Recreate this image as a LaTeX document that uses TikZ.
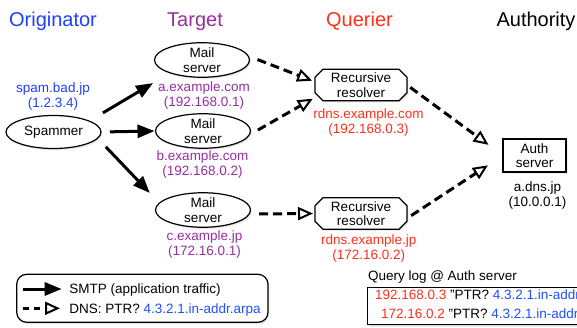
\documentclass[tikz,border=0pt]{standalone}
\usepackage{fontspec}
\setmainfont{Liberation Sans}
\usetikzlibrary{arrows.meta,shapes.geometric,shapes.misc,shadows}

\definecolor{origblue}{RGB}{30,64,255}
\definecolor{targpurple}{RGB}{150,48,160}
\definecolor{querred}{RGB}{255,48,28}
\definecolor{linkblue}{RGB}{30,80,255}

\begin{document}
\begin{tikzpicture}[x=1pt,y=-1pt,
  every node/.style={inner sep=0pt, outer sep=0pt},
  txt/.style={font=\fontsize{13.5}{14.5}\selectfont, align=center},
  lbl/.style={font=\fontsize{13.5}{15}\selectfont, align=center},
  head/.style={font=\fontsize{20}{24}\selectfont, anchor=base},
  shade/.style={
    drop shadow={shadow xshift=1.6pt, shadow yshift=-2pt, opacity=0.12},
    drop shadow={shadow xshift=0.8pt, shadow yshift=-1pt, opacity=0.18}},
  host/.style={txt, ellipse, draw, line width=1.2pt, fill=white,
    minimum width=95pt, minimum height=33pt, shade},
  resolver/.style={txt, chamfered rectangle, chamfered rectangle xsep=4.5pt,
    draw, line width=1.2pt, fill=white, minimum width=92pt, minimum height=29pt, shade},
  authbox/.style={txt, rectangle, draw, line width=1.2pt, fill=white,
    minimum width=63pt, minimum height=33pt, shade},
  smtp/.style={line width=3pt, -{Triangle[length=17pt,width=13pt]}},
  dns/.style={line width=3pt, dash pattern=on 9pt off 5pt,
    -{Triangle[length=15pt,width=13pt,fill=white,line width=2pt 0]}}]

\fill[white] (0,0) rectangle (577,328);
\clip (0,0) rectangle (577,328);

% column headings
\node[head, text=origblue]   (hOrig)  at (53,26.5)  {Originator};
\node[head, text=targpurple] (hTarg)  at (195,26.5) {Target};
\node[head, text=querred]    (hQuer)  at (359.5,26.5) {Querier};
\node[head]                  (hAuth)  at (536,26.5) {Authority};

% originator
\node[host] (spam) at (53.5,132) {Spammer};
\node[lbl, text=origblue] (spamlbl) at (53,96.5) {spam.bad.jp\\(1.2.3.4)};

% targets
\node[host] (mailA) at (202,60) {Mail\\server};
\node[lbl, text=targpurple] (lblA) at (204,96) {a.example.com\\(192.168.0.1)};
\node[host] (mailB) at (203,131) {Mail\\server};
\node[lbl, text=targpurple] (lblB) at (202.5,164.5) {b.example.com\\(192.168.0.2)};
\node[host] (mailC) at (203,210) {Mail\\server};
\node[lbl, text=targpurple] (lblC) at (204.5,244.5) {c.example.jp\\(172.16.0.1)};

% queriers
\node[resolver] (resA) at (361,85) {Recursive\\resolver};
\node[lbl, text=querred] (lblRA) at (368.5,122.5) {rdns.example.com\\(192.168.0.3)};
\node[resolver] (resB) at (361,213.5) {Recursive\\resolver};
\node[lbl, text=querred] (lblRB) at (368.7,248.5) {rdns.example.jp\\(172.16.0.2)};

% authority
\node[authbox] (auth) at (534.5,155.5) {Auth\\server};
\node[lbl] (lblAuth) at (537.5,196) {a.dns.jp\\(10.0.0.1)};

% SMTP traffic
\draw[smtp, shorten <=16pt, shorten >=20pt] (spam.17) -- (mailA.202);
\draw[smtp, shorten <=9pt, shorten >=1pt] (spam.east) -- (mailB.west);
\draw[smtp, shorten <=12pt, shorten >=14pt] (spam.-8) -- (mailC.171);

% PTR queries
\draw[dns, shorten <=10pt, shorten >=3pt] (mailA.5) -- (resA.176);
\draw[dns, shorten <=10pt, shorten >=6pt] (mailB.-5) -- (resA.194);
\draw[dns, shorten <=10pt, shorten >=2pt] (mailC.-5) -- (resB.west);
\draw[dns, shorten <=4pt, shorten >=18pt] (resA.east) -- (auth.west);
\draw[dns, shorten <=5pt, shorten >=18pt] (resB.-6) -- (auth.west);

% legend
\node[draw, line width=1.2pt, rounded corners=10pt, fill=white, shade,
  minimum width=251.3pt, minimum height=48pt] (legend) at (142.35,298.3) {};
\coordinate (lgS0) at (22.7,289);
\coordinate (lgS1) at (61.7,289);
\coordinate (lgD0) at (22.7,308.3);
\coordinate (lgD1) at (60,308.3);
\draw[smtp] (lgS0) -- (lgS1);
\draw[dns, dash pattern=on 6pt off 5pt] (lgD0) -- (lgD1);
\node[txt, anchor=base west] (lgSmtp) at (69.3,293.8) {SMTP (application traffic)};
\node[txt, anchor=base west] (lgDns) at (69.3,313) {DNS: PTR? \textcolor{linkblue}{4.3.2.1.in-addr.arpa}};

% query log (the box runs on past the right edge)
\node[txt, anchor=base west] (qtitle) at (368,280.5) {Query log @ Auth server};
\node[draw, line width=1.2pt, fill=white, shade, anchor=north west,
  minimum width=260pt, minimum height=37pt] (qbox) at (367.7,287.7) {};
\node[txt, anchor=base west] (qrow1) at (375,299.8)
  {\textcolor{querred}{192.168.0.3} "PTR? \textcolor{linkblue}{4.3.2.1.in-addr.arpa}"};
\node[txt, anchor=base west] (qrow2) at (381,318.1)
  {\textcolor{querred}{172.16.0.2} "PTR? \textcolor{linkblue}{4.3.2.1.in-addr.arpa}"};
\end{tikzpicture}
\end{document}
